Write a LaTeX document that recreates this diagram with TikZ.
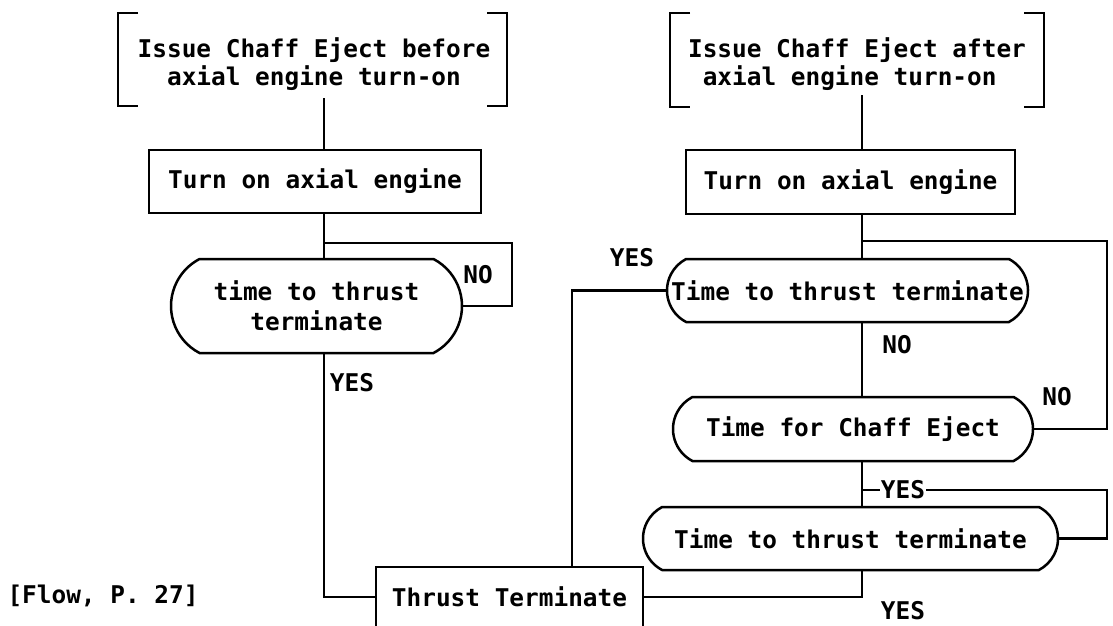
\documentclass[tikz,border=0pt]{standalone}
\usepackage{fontspec}
\setmonofont{DejaVu Sans Mono}
\usetikzlibrary{shapes.misc,calc}
\begin{document}
\begin{tikzpicture}[x=1pt,y=-1pt,
  every node/.style={font=\ttfamily\bfseries\fontsize{24.4}{28}\selectfont, inner sep=0pt},
  ln/.style={line width=2.5pt, line join=miter},
  decision/.style={rounded rectangle, rounded rectangle arc length=125, draw, line width=2.5pt},
  proc/.style={rectangle, draw, line width=2.5pt},
  lbl/.style={}
]
\useasboundingbox (0,0) rectangle (1113,626);
\clip (0,0) rectangle (1113,626);

% left column
\node[align=center] (I1) at (314,64) {Issue Chaff Eject before\\axial engine turn-on};
\draw[ln] ($(I1.center)+(-176,-51)$) -- ($(I1.center)+(-196,-51)$) -- ($(I1.center)+(-196,42)$) -- ($(I1.center)+(-176,42)$);
\draw[ln] ($(I1.center)+(173,-51)$) -- ($(I1.center)+(193,-51)$) -- ($(I1.center)+(193,42)$) -- ($(I1.center)+(173,42)$);
\node[proc, minimum width=332, minimum height=63] (T1) at (315,181.5) {Turn on axial engine};
\node[decision, minimum width=291, minimum height=94, align=center, font=\ttfamily\bfseries\fontsize{24.4}{30}\selectfont] (D1) at (316.5,306) {time to thrust\\terminate};
\node[proc, minimum width=267, minimum height=60] (TT) at (509.5,597) {Thrust Terminate};

\coordinate (c1) at (324,98);
\draw[ln] (c1) -- (c1 |- T1.north);
\draw[ln] (c1 |- T1.south) -- (c1 |- D1.north);
\coordinate (l1) at (324,243);
\coordinate (l1r) at (512,243);
\draw[ln] (l1) -- (l1r) -- (l1r |- D1.east) -- (D1.east);
\draw[ln] (c1 |- D1.south) |- (TT.west);

\node[lbl] (no1) at (478,275) {NO};
\node[lbl] (yes1) at (352,383) {YES};
\node[lbl] (flow) at (103,596) {[Flow, P. 27]};

% right column
\node[align=left] (I2) at (857,64) {Issue Chaff Eject after\\\ axial engine turn-on};
\draw[ln] ($(I2.center)+(-167,-51)$) -- ($(I2.center)+(-187,-51)$) -- ($(I2.center)+(-187,43)$) -- ($(I2.center)+(-167,43)$);
\draw[ln] ($(I2.center)+(167,-51)$) -- ($(I2.center)+(187,-51)$) -- ($(I2.center)+(187,43)$) -- ($(I2.center)+(167,43)$);
\node[proc, minimum width=329, minimum height=64] (T2) at (850.5,182) {Turn on axial engine};
\node[decision, minimum width=361, minimum height=63] (A) at (847.5,290.5) {\makebox[0pt]{Time to thrust terminate}};
\node[decision, minimum width=360, minimum height=64] (B) at (853,429) {\makebox[0pt]{Time for Chaff Eject}};
\node[decision, minimum width=415, minimum height=63] (C) at (850.5,538.5) {\makebox[0pt]{Time to thrust terminate}};

\coordinate (c2) at (862,95);
\draw[ln] (c2) -- (c2 |- T2.north);
\draw[ln] (c2 |- T2.south) -- (c2 |- A.north);
\coordinate (l2) at (862,241);
\coordinate (l2r) at (1107,241);
\draw[ln] (l2) -- (l2r) -- (l2r |- B.east) -- (B.east);
\coordinate (tta) at (572,567);
\draw[ln] (A.west) -| (tta);
\draw[ln] (c2 |- A.south) -- (c2 |- B.north);
\draw[ln] (c2 |- B.south) -- (c2 |- C.north);
\coordinate (l3) at (862,490);
\coordinate (l3r) at (1107,490);
\draw[ln] (l3) -- (l3r) -- (l3r |- C.east) -- (C.east);
\draw[ln] (c2 |- C.south) |- (TT.east);

\node[lbl] (yes2) at (632,258) {YES};
\node[lbl] (no2) at (897,345) {NO};
\node[lbl] (no3) at (1057,397) {NO};
\node[lbl, fill=white, inner xsep=1pt] (yes3) at (903,490) {YES};
\node[lbl] (yes4) at (903,611) {YES};
\end{tikzpicture}
\end{document}
